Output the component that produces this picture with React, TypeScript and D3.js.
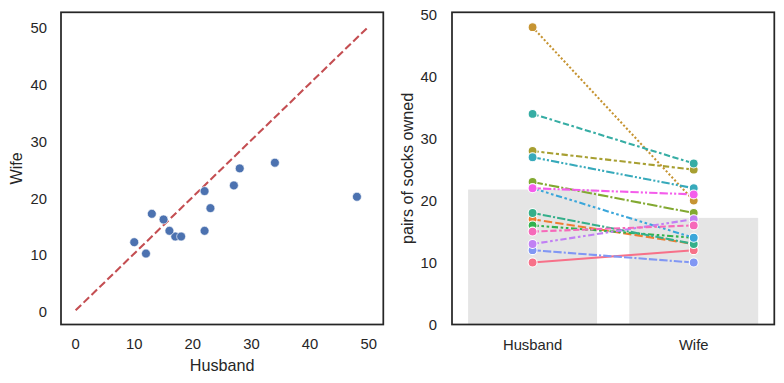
import React from "react";
import * as d3 from "d3";

// Couples in data order (hue order)
const husband = [10, 17, 48, 28, 23, 16, 18, 34, 27, 22, 12, 13, 22, 15];
const wife = [12, 13, 20, 25, 18, 14, 13, 26, 22, 14, 10, 17, 21, 16];
const groups = ["Husband", "Wife"];
const scatterTicks = [0, 10, 20, 30, 40, 50];
const rightTicks = [0, 10, 20, 30, 40, 50];
const diagonal = [0, 50];

// ---- HUSL (seaborn) ----
const M = [
  [3.2406, -1.5372, -0.4986],
  [-0.9689, 1.8758, 0.0415],
  [0.0557, -0.204, 1.057],
];
const refU = 0.19784, refV = 0.46834, kappa = 24389 / 27, epsilon = 216 / 24389;
function maxChroma(L: number, H: number) {
  const hrad = (H / 360) * 2 * Math.PI;
  const sinH = Math.sin(hrad), cosH = Math.cos(hrad);
  const sub1 = Math.pow(L + 16, 3) / 1560896;
  const sub2 = sub1 > epsilon ? sub1 : L / kappa;
  let result = Infinity;
  for (const [m1, m2, m3] of M) {
    const top = (0.99915 * m1 + 1.05122 * m2 + 1.1446 * m3) * sub2;
    const rb = 0.8633 * m3 - 0.17266 * m2;
    const lb = 0.12949 * m3 - 0.38848 * m1;
    const bottom = (rb * sinH + lb * cosH) * sub2;
    for (const t of [0, 1]) {
      const C = (L * (top - 1.05122 * t)) / (bottom + 0.17266 * sinH * t);
      if (C > 0 && C < result) result = C;
    }
  }
  return result;
}
function fromLinear(c: number) {
  return c <= 0.0031308 ? 12.92 * c : 1.055 * Math.pow(c, 1 / 2.4) - 0.055;
}
function huslToRgb(h: number, s: number, l: number) {
  const C = (maxChroma(l, h) / 100) * s;
  const hrad = (h / 360) * 2 * Math.PI;
  const U = Math.cos(hrad) * C, V = Math.sin(hrad) * C;
  const t = (l + 16) / 116;
  const Y = Math.pow(t, 3) > epsilon ? Math.pow(t, 3) : (116 * t - 16) / kappa;
  const varU = U / (13 * l) + refU;
  const varV = V / (13 * l) + refV;
  const X = 0 - (9 * Y * varU) / ((varU - 4) * varV - varU * varV);
  const Z = (9 * Y - 15 * varV * Y - varV * X) / (3 * varV);
  const rgb = M.map((r) => fromLinear(r[0] * X + r[1] * Y + r[2] * Z));
  return d3.rgb(
    ...(rgb.map((c) => Math.max(0, Math.min(1, c)) * 255) as [number, number, number])
  ).formatHex();
}
function huslPalette(n: number) {
  const out: string[] = [];
  for (let i = 0; i < n; i++) {
    const h = ((i / n + 0.01) % 1) * 359;
    out.push(huslToRgb(h, 0.9 * 99, 0.65 * 99));
  }
  return out;
}
function uniqueDashes(n: number): number[][] {
  const dashes: number[][] = [[], [4, 1.5], [1, 1], [3, 1.25, 1.5, 1.25], [5, 1, 1, 1]];
  const cwr = (vals: number[], p: number): number[][] => {
    const res: number[][] = [];
    const rec = (start: number, cur: number[]) => {
      if (cur.length === p) { res.push(cur.slice()); return; }
      for (let i = start; i < vals.length; i++) { cur.push(vals[i]); rec(i, cur); cur.pop(); }
    };
    rec(0, []);
    return res;
  };
  let p = 3;
  while (dashes.length < n) {
    const a = cwr([3, 1.25], p).slice(1, -1).reverse();
    const b = cwr([4, 1], p).slice(1, -1);
    for (let i = 0; i < Math.min(a.length, b.length); i++) {
      for (const seg of [a[i], b[i]]) {
        const gap = Math.min(...seg);
        const spec: number[] = [];
        seg.forEach((s) => spec.push(s, gap));
        dashes.push(spec);
      }
    }
    p++;
  }
  return dashes.slice(0, n);
}

const PT = 100 / 72;
const LW = 1.5 * PT;
const TXT = "#262626";
const EDGE = "#262626";

export default function App() {
  const n = husband.length;
  const colors = huslPalette(n);
  const dashes = uniqueDashes(n);

  const top = 12.3, bottom = 324.5;
  // left panel
  const Lx0 = 61, Lx1 = 383.3;
  const lx = d3.scaleLinear().domain([-2.5, 52.5]).range([Lx0, Lx1]);
  const ly = d3.scaleLinear().domain([-2.5, 52.5]).range([bottom, top]);
  // right panel
  const Rx0 = 452, Rx1 = 774.3;
  const rx = d3.scaleLinear().domain([-0.5, 1.5]).range([Rx0, Rx1]);
  const rmax = (d3.max(husband.concat(wife)) as number) * 1.05;
  const ry = d3.scaleLinear().domain([0, rmax]).range([bottom, top]);
  const means = [d3.mean(husband) as number, d3.mean(wife) as number];
  const line = d3.line<[number, number]>().x((d) => rx(d[0])).y((d) => ry(d[1]));

  const tickFont = 14.8;
  const labelFont = 16.2;
  const midY = (top + bottom) / 2;
  const font = "'Liberation Sans', Arial, sans-serif";

  return (
    <svg width={784} height={383} style={{ position: "absolute", left: 0, top: 0 }} fontFamily={font}>
      <rect width={784} height={383} fill="#fff" />
      {/* LEFT PANEL */}
      <g>
        <line
          x1={lx(diagonal[0])} y1={ly(diagonal[0])} x2={lx(diagonal[1])} y2={ly(diagonal[1])}
          stroke="#c44e52" strokeWidth={LW}
          strokeDasharray={`${3.7 * LW} ${1.6 * LW}`}
        />
        {husband.map((h, i) => (
          <circle key={i} cx={lx(h)} cy={ly(wife[i])} r={3 * PT + 0.3}
            fill="#4c72b0" stroke="#fff" strokeWidth={0.48 * PT} />
        ))}
        <rect x={Lx0} y={top} width={Lx1 - Lx0} height={bottom - top} fill="none" stroke={EDGE} strokeWidth={1.25 * PT} />
        {scatterTicks.map((t) => (
          <text key={"x" + t} x={lx(t)} y={349.3} textAnchor="middle" fontSize={tickFont} fill={TXT}>{t}</text>
        ))}
        {scatterTicks.map((t) => (
          <text key={"y" + t} x={47} y={ly(t) + tickFont * 0.36 + 1.5} textAnchor="end" fontSize={tickFont} fill={TXT}>{t}</text>
        ))}
        <text x={(Lx0 + Lx1) / 2} y={371} textAnchor="middle" fontSize={labelFont} fill={TXT}>Husband</text>
        <text transform={`translate(21.5,${midY}) rotate(-90)`} textAnchor="middle" fontSize={labelFont} fill={TXT}>Wife</text>
      </g>
      {/* RIGHT PANEL */}
      <g>
        {means.map((m, i) => (
          <rect key={i} x={rx(i - 0.4)} y={ry(m)} width={rx(0.8) - rx(0)} height={ry(0) - ry(m)} fill="#e5e5e5" />
        ))}
        {husband.map((h, i) => {
          const pts: [number, number][] = [[0, h], [1, wife[i]]];
          return (
            <g key={i}>
              <path d={line(pts) as string} fill="none" stroke={colors[i]} strokeWidth={LW}
                strokeDasharray={dashes[i].length ? dashes[i].map((d) => d * LW).join(" ") : undefined} />
              {pts.map((p, j) => (
                <circle key={j} cx={rx(p[0])} cy={ry(p[1])} r={3 * PT + 0.3} fill={colors[i]} stroke="#fff" strokeWidth={0.75 * PT} />
              ))}
            </g>
          );
        })}
        <rect x={Rx0} y={top} width={Rx1 - Rx0} height={bottom - top} fill="none" stroke={EDGE} strokeWidth={1.25 * PT} />
        {groups.map((g, i) => (
          <text key={g} x={rx(i)} y={349.5} textAnchor="middle" fontSize={tickFont} fill={TXT}>{g}</text>
        ))}
        {rightTicks.map((t) => (
          <text key={t} x={437} y={ry(t) + tickFont * 0.36} textAnchor="end" fontSize={tickFont} fill={TXT}>{t}</text>
        ))}
        <text transform={`translate(412.5,${midY}) rotate(-90)`} textAnchor="middle" fontSize={labelFont} fill={TXT}>pairs of socks owned</text>
      </g>
    </svg>
  );
}
